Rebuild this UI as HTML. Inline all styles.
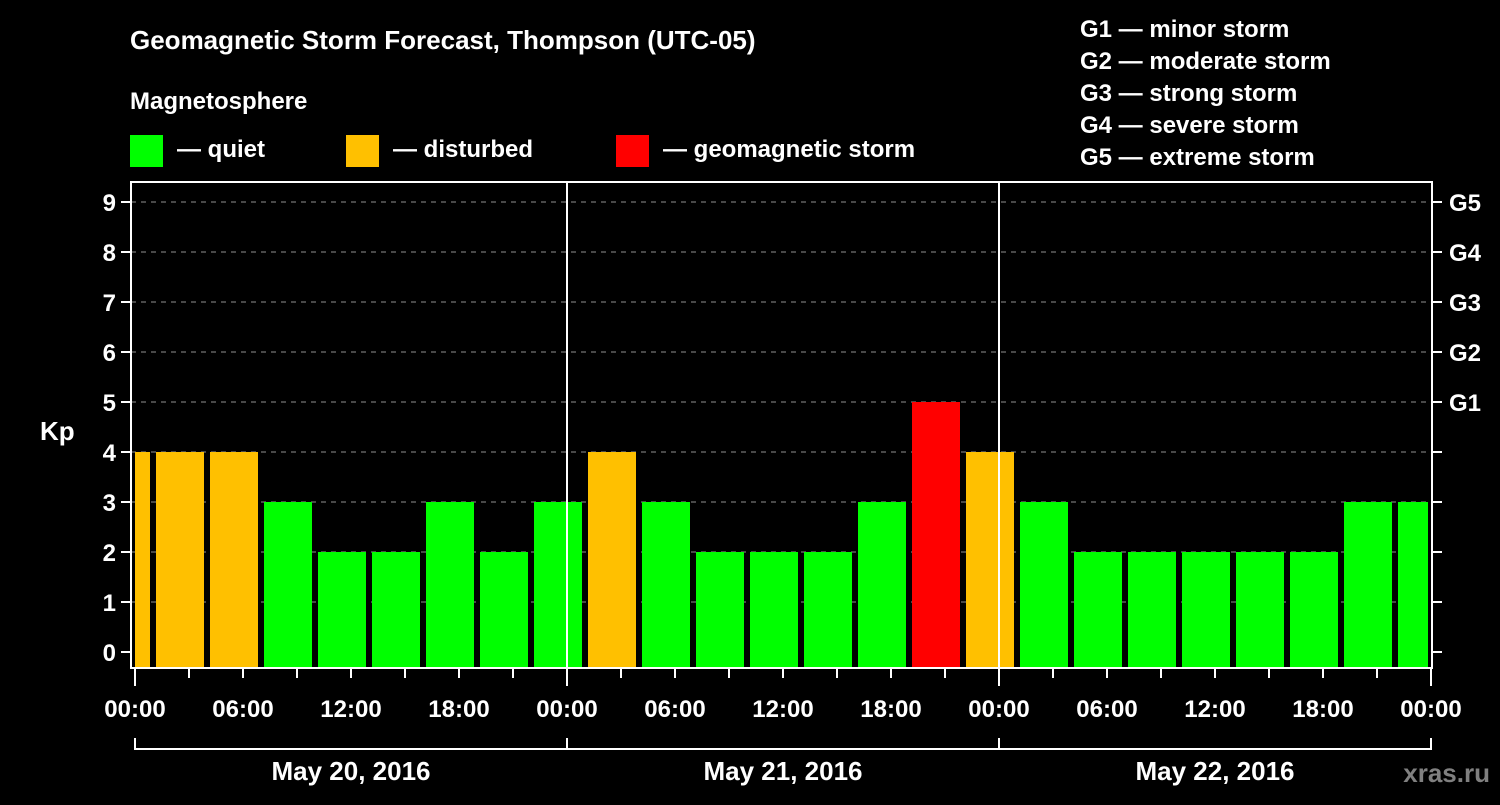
<!DOCTYPE html>
<html><head><meta charset="utf-8"><style>
html,body{margin:0;padding:0;background:#000;}
svg text{font-family:"Liberation Sans",Arial,sans-serif;font-weight:bold;fill:#fff;}
</style></head><body>
<svg width="1500" height="800" viewBox="0 0 1500 800">
<text x="130" y="49" font-size="26">Geomagnetic Storm Forecast, Thompson (UTC-05)</text>
<text x="130" y="109" font-size="24">Magnetosphere</text>
<g>
<rect x="130" y="135" width="33" height="32" fill="#00ff00"/>
<text x="177" y="157" font-size="24">— quiet</text>
<rect x="346" y="135" width="33" height="32" fill="#ffc000"/>
<text x="393" y="157" font-size="24">— disturbed</text>
<rect x="616" y="135" width="33" height="32" fill="#ff0000"/>
<text x="663" y="157" font-size="24">— geomagnetic storm</text>
</g>
<g font-size="24">
<text x="1080" y="37">G1 — minor storm</text>
<text x="1080" y="69">G2 — moderate storm</text>
<text x="1080" y="101">G3 — strong storm</text>
<text x="1080" y="133">G4 — severe storm</text>
<text x="1080" y="165">G5 — extreme storm</text>
</g>
<text x="40" y="440" font-size="26">Kp</text>
<text x="1490" y="782" font-size="26" text-anchor="end" style="fill:#808080">xras.ru</text>
<g id="grid"></g>
<g id="bars"></g>
<g id="axes"></g>
</svg>
<script>
const hours=[-0.5,2.5,5.5,8.5,11.5,14.5,17.5,20.5,23.5,26.5,29.5,32.5,35.5,38.5,41.5,44.5,47.5,50.5,53.5,56.5,59.5,62.5,65.5,68.5,71.5];
const kp=[4,4,4,3,2,2,3,2,3,4,3,2,2,2,3,5,4,3,2,2,2,2,2,3,3];
const yTicks=[0,1,2,3,4,5,6,7,8,9];
const gLabels=["G1","G2","G3","G4","G5"];
const gLevels=[5,6,7,8,9];
const xLabels=["00:00","06:00","12:00","18:00","00:00","06:00","12:00","18:00","00:00","06:00","12:00","18:00","00:00"];
const days=["May 20, 2016","May 21, 2016","May 22, 2016"];
const NS="http://www.w3.org/2000/svg";
const X=h=>135+h*18, Y=v=>652-v*50;
const L=131,R=1432,T=182,B=668;
function el(tag,at,par,name){const e=document.createElementNS(NS,tag);for(const k in at)e.setAttribute(k,at[k]);


document.getElementById(par).appendChild(e);return e;}
yTicks.forEach(v=>{if(v>0)el('line',{x1:L,x2:R,y1:Y(v),y2:Y(v),stroke:'#909090','stroke-dasharray':'5,5','stroke-width':1},'grid','grid-line');});
hours.forEach((h,i)=>{const v=kp[i];const c=v>=5?'#ff0000':v>=4?'#ffc000':'#00ff00';
let x0=Math.max(X(h)-24,135),x1=Math.min(X(h)+24,1428);
el('rect',{x:x0,y:Y(v),width:x1-x0,height:B-Y(v),fill:c},'bars','bar-'+i);});
el('rect',{x:L,y:T,width:R-L,height:B-T,fill:'none',stroke:'#fff','stroke-width':2},'axes','plot-frame');
[1,2].forEach(d=>el('line',{x1:X(24*d),x2:X(24*d),y1:T,y2:B,stroke:'#fff','stroke-width':2},'axes','day-divider'));
yTicks.forEach(v=>{el('line',{x1:L-10,x2:L,y1:Y(v),y2:Y(v),stroke:'#fff','stroke-width':2},'axes','y-tick');
const t=el('text',{x:116,y:Y(v)+9,'font-size':24,'text-anchor':'end'},'axes','y-tick-label');t.textContent=v;
el('line',{x1:R,x2:R+10,y1:Y(v),y2:Y(v),stroke:'#fff','stroke-width':2},'axes','y-tick-right');});
gLevels.forEach((v,i)=>{const t=el('text',{x:1449,y:Y(v)+9,'font-size':24},'axes','g-label');t.textContent=gLabels[i];});
for(let h=0;h<=72;h+=3){const maj=h%24==0;el('line',{x1:X(h),x2:X(h),y1:B,y2:B+(maj?18:10),stroke:'#fff','stroke-width':2},'axes','x-tick');}
xLabels.forEach((s,i)=>{const t=el('text',{x:X(i*6),y:717,'font-size':24,'text-anchor':'middle'},'axes','x-tick-label');t.textContent=s;});
el('path',{d:`M${X(0)} 738V749H${X(72)}V738`,fill:'none',stroke:'#fff','stroke-width':2},'axes','date-bracket');
[1,2].forEach(d=>el('line',{x1:X(24*d),x2:X(24*d),y1:738,y2:749,stroke:'#fff','stroke-width':2},'axes','date-bracket-tick'));
days.forEach((s,i)=>{const t=el('text',{x:X(24*i+12),y:780,'font-size':26,'text-anchor':'middle'},'axes','date-label');t.textContent=s;});
</script>
</body></html>
